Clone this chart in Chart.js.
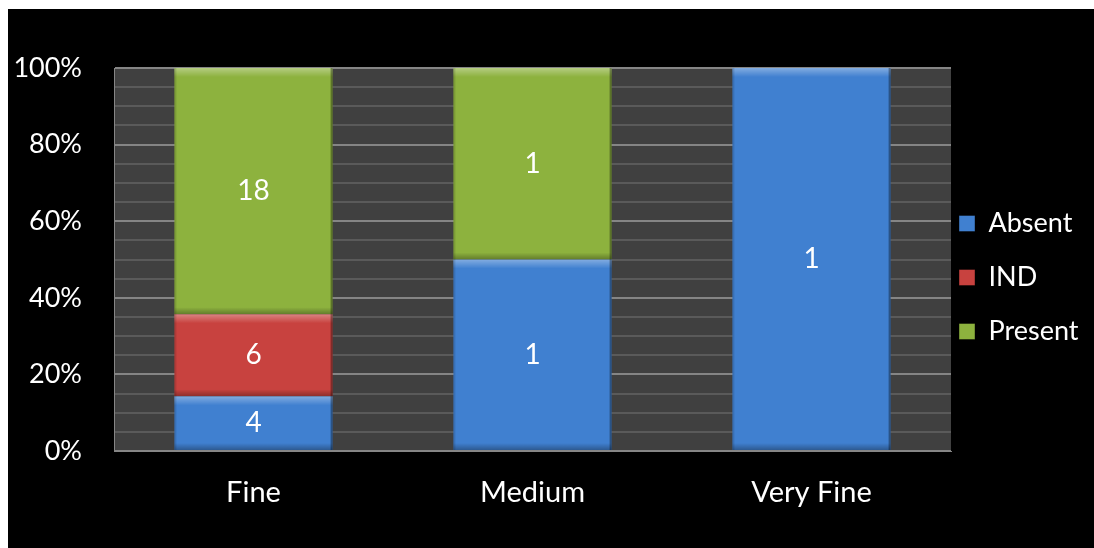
<!DOCTYPE html>
<html>
<head>
<meta charset="utf-8">
<script src="https://cdn.jsdelivr.net/npm/chart.js@4/dist/chart.umd.min.js"></script>
<style>
  body { margin: 0; background: #fff; }
  #wrap { position: absolute; left: 8px; top: 9px; width: 1086px; height: 539px; background: #000; }
</style>
</head>
<body>
<div id="wrap"><canvas id="qualityChart"></canvas></div>
<script>
// Chart data (counts per category)
const categories = ['Fine', 'Medium', 'Very Fine'];
const absentCounts = [4, 1, 1];
const indCounts = [6, 0, 0];
const presentCounts = [18, 1, 0];
const tickLabels = ['0%', '20%', '40%', '60%', '80%', '100%'];

const seriesNames = ['Absent', 'IND', 'Present'];
const seriesColors = ['#4080d0', '#c8423f', '#8db23e'];
const seriesCounts = [absentCounts, indCounts, presentCounts];

// 100% stacked: share of each count within its category
const totals = categories.map((c, i) => seriesCounts.reduce((sum, s) => sum + s[i], 0));
const toShare = (counts) => counts.map((v, i) => totals[i] ? v / totals[i] * 100 : 0);

const FONT = 'Lato, "Open Sans", sans-serif';
Chart.defaults.color = '#ffffff';
Chart.defaults.font.family = FONT;

// Plot area background
const plotBackground = {
    id: 'plotBackground',
    beforeDraw(chart) {
        const { ctx, chartArea } = chart;
        ctx.save();
        ctx.fillStyle = '#404040';
        ctx.fillRect(chartArea.left, chartArea.top, chartArea.right - chartArea.left, chartArea.bottom - chartArea.top);
        ctx.restore();
    }
};

// Bevel look + count labels on the bars
const barDecor = {
    id: 'barDecor',
    afterDatasetsDraw(chart) {
        const ctx = chart.ctx;
        chart.data.datasets.forEach((ds, di) => {
            const meta = chart.getDatasetMeta(di);
            meta.data.forEach((bar, i) => {
                if (!ds.counts[i]) return;
                const left = bar.x - bar.width / 2;
                const right = bar.x + bar.width / 2;
                const top = Math.min(bar.y, bar.base);
                const bottom = Math.max(bar.y, bar.base);
                ctx.save();
                let g = ctx.createLinearGradient(0, top, 0, top + 9);
                g.addColorStop(0, 'rgba(255,255,255,0.35)');
                g.addColorStop(1, 'rgba(255,255,255,0)');
                ctx.fillStyle = g;
                ctx.fillRect(left, top, right - left, 9);
                g = ctx.createLinearGradient(0, bottom - 7, 0, bottom);
                g.addColorStop(0, 'rgba(0,0,0,0)');
                g.addColorStop(1, 'rgba(0,0,0,0.3)');
                ctx.fillStyle = g;
                ctx.fillRect(left, bottom - 7, right - left, 7);
                ctx.fillStyle = 'rgba(0,0,0,0.35)';
                ctx.fillRect(right - 2, top, 2, bottom - top);
                ctx.fillStyle = 'rgba(0,0,0,0.12)';
                ctx.fillRect(left, top, 2, bottom - top);

                ctx.fillStyle = '#ffffff';
                ctx.font = '28px ' + FONT;
                ctx.textAlign = 'center';
                ctx.textBaseline = 'middle';
                ctx.fillText(String(ds.counts[i]), bar.x, (top + bottom) / 2);
                ctx.restore();
            });
        });
    }
};

// Fixed legend width and position on the right
const legendBox = {
    id: 'legendBox',
    beforeInit(chart) {
        const fit = chart.legend.fit;
        chart.legend.fit = function () {
            fit.call(this);
            this.width = 143;
        };
    },
    afterLayout(chart) {
        chart.legend.left -= 19;
        chart.legend.top -= 1;
        chart.legend.bottom -= 1;
    }
};

const ctx = document.getElementById('qualityChart').getContext('2d');
const qualityChart = new Chart(ctx, {
    type: 'bar',
    data: {
        labels: categories,
        datasets: seriesNames.map((name, k) => ({
            label: name,
            data: toShare(seriesCounts[k]),
            counts: seriesCounts[k],
            backgroundColor: seriesColors[k],
            borderWidth: 0,
            barPercentage: 0.567,
            categoryPercentage: 1
        }))
    },
    options: {
        responsive: true,
        maintainAspectRatio: false,
        animation: false,
        layout: { padding: 0 },
        plugins: {
            title: {
                display: true,
                text: ' ',
                font: { size: 10, lineHeight: 1 },
                padding: { top: 49, bottom: 0 }
            },
            legend: {
                position: 'right',
                labels: {
                    color: '#ffffff',
                    font: { size: 27, family: FONT },
                    boxWidth: 16,
                    boxHeight: 16,
                    padding: 27,
                    generateLabels(chart) {
                        return chart.data.datasets.map((ds, i) => ({
                            text: ds.label,
                            fillStyle: ds.backgroundColor,
                            strokeStyle: 'rgba(0,0,0,0.4)',
                            lineWidth: 1,
                            fontColor: '#ffffff',
                            datasetIndex: i
                        }));
                    }
                }
            },
            tooltip: { enabled: false }
        },
        scales: {
            x: {
                stacked: true,
                grid: { display: false, drawTicks: false },
                border: { display: true, color: '#868686', width: 1 },
                ticks: { color: '#ffffff', font: { size: 29 }, padding: 24 },
                afterFit: function (scale) {
                    scale.height = 97;
                }
            },
            y: {
                stacked: true,
                min: 0,
                max: 100,
                grid: {
                    drawTicks: false,
                    color: function (context) {
                        return context.tick && context.tick.value % 20 === 0 ? '#858585' : '#5a5a5a';
                    },
                    lineWidth: 2
                },
                border: { display: true, color: '#868686', width: 1 },
                ticks: {
                    stepSize: 5,
                    autoSkip: false,
                    color: '#ffffff',
                    font: { size: 27 },
                    padding: 32,
                    callback: function (value) {
                        return value % 20 === 0 ? tickLabels[value / 20] : '';
                    }
                },
                afterFit: function (scale) {
                    scale.width = 106;
                }
            }
        }
    },
    plugins: [plotBackground, barDecor, legendBox]
});
</script>
</body>
</html>
